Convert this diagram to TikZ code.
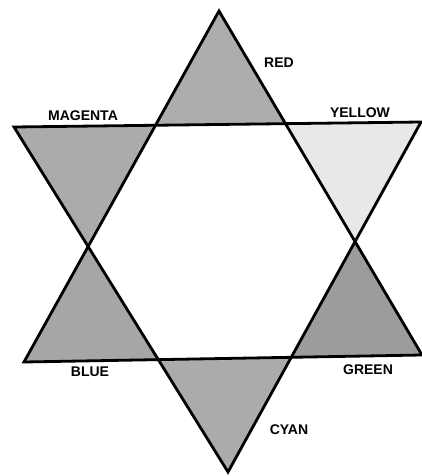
\documentclass[tikz,border=0pt]{standalone}
\usepackage{fontspec}
\setmainfont{Liberation Sans}
\usepackage{tikz}
\usetikzlibrary{calc}

\definecolor{shadeR}{gray}{0.68}
\definecolor{shadeY}{gray}{0.91}
\definecolor{shadeG}{gray}{0.61}
\definecolor{shadeC}{gray}{0.67}
\definecolor{shadeB}{gray}{0.65}
\definecolor{shadeM}{gray}{0.67}

\tikzset{
    edge/.style={line width=2.8pt,black},
    colname/.style={font=\fontsize{14}{16}\selectfont\bfseries,inner sep=0pt}
}

\begin{document}
\begin{tikzpicture}[x=1pt,y=-1pt]
        \useasboundingbox (0,0) rectangle (422,476);

        \coordinate (T) at (219,11);
        \coordinate (BL) at (24,362);
        \coordinate (BR) at (422,355);
        \coordinate (ML) at (14,127);
        \coordinate (MR) at (421,122);
        \coordinate (B) at (228,472);

        \coordinate (h1) at (intersection of T--BL and ML--MR);
        \coordinate (h2) at (intersection of T--BR and ML--MR);
        \coordinate (h3) at (intersection of T--BR and MR--B);
        \coordinate (h4) at (intersection of BL--BR and MR--B);
        \coordinate (h5) at (intersection of BL--BR and ML--B);
        \coordinate (h6) at (intersection of T--BL and ML--B);

        \fill[shadeR] (T) -- (h2) -- (h1) -- cycle;
        \fill[shadeY] (MR) -- (h3) -- (h2) -- cycle;
        \fill[shadeG] (BR) -- (h4) -- (h3) -- cycle;
        \fill[shadeC] (B) -- (h5) -- (h4) -- cycle;
        \fill[shadeB] (BL) -- (h6) -- (h5) -- cycle;
        \fill[shadeM] (ML) -- (h1) -- (h6) -- cycle;

        \draw[edge] (T) -- (BR) -- (BL) -- cycle;
        \draw[edge] (ML) -- (MR) -- (B) -- cycle;

        \node[colname] (red) at (279,63) {RED};
        \node[colname] (yellow) at (360,113) {YELLOW};
        \node[colname] (green) at (368,370) {GREEN};
        \node[colname] (cyan) at (289,430) {CYAN};
        \node[colname] (blue) at (90,372) {BLUE};
        \node[colname] (magenta) at (83,116) {MAGENTA};
    \end{tikzpicture}
\end{document}
